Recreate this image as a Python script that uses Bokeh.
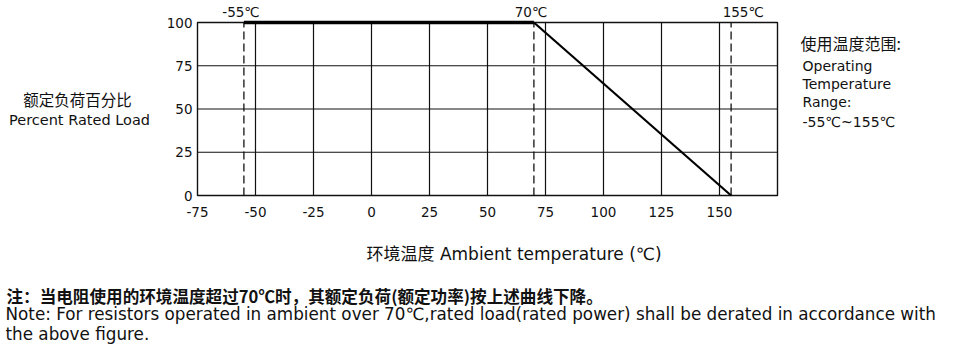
from bokeh.plotting import figure
from bokeh.models import Range1d, FixedTicker, Label, LinearAxis
from bokeh.embed import file_html
from bokeh.resources import INLINE

# ---- data ----
curve_temp = [-55, 70, 155]
curve_load = [100, 100, 0]
marker_temps = [-55, 70, 155]
marker_texts = ["-55℃", "70℃", "155℃"]
x_lim = [-75, 175]
y_lim = [0, 100]
x_ticks = [-75, -50, -25, 0, 25, 50, 75, 100, 125, 150]
x_grid = [-50, -25, 0, 25, 50, 75, 100, 125, 150]
y_ticks = [0, 25, 50, 75, 100]
y_grid = [25, 50, 75]

# ---- layout (pixels) ----
W, H = 959, 357
FL, FR, FT, FB = 197, 777, 22, 195          # chart box on the canvas
sx = (FR - FL) / (x_lim[1] - x_lim[0])
sy = (FB - FT) / (y_lim[1] - y_lim[0])
marker_text_dx = [-3, -3, 12]

p = figure(width=W, height=H, output_backend="svg", toolbar_location=None,
           x_range=Range1d(x_lim[0] - FL / sx, x_lim[1] + (W - FR) / sx),
           y_range=Range1d(y_lim[0] - (H - FB) / sy, y_lim[1] + FT / sy),
           x_axis_location=None, y_axis_location=None,
           min_border=0, min_border_left=0, min_border_right=0,
           min_border_top=0, min_border_bottom=0)
p.outline_line_color = None
p.grid.visible = False
p.background_fill_color = "white"
p.border_fill_color = "white"

INK = "#111111"

# axes placed on the chart box edges
xax = LinearAxis(fixed_location=y_lim[0], ticker=FixedTicker(ticks=x_ticks),
                 major_label_overrides={t: str(t) for t in x_ticks})
yax = LinearAxis(fixed_location=x_lim[0], ticker=FixedTicker(ticks=y_ticks),
                 major_label_overrides={t: str(t) for t in y_ticks})
for ax in (xax, yax):
    ax.axis_line_color = None
    ax.major_tick_line_color = None
    ax.minor_tick_line_color = None
    ax.major_tick_out = 0
    ax.major_tick_in = 0
    ax.minor_tick_out = 0
    ax.minor_tick_in = 0
    ax.major_label_text_font = "DejaVu Sans"
    ax.major_label_text_color = INK
    ax.major_label_text_font_size = "13.5px"
xax.major_label_standoff = 11
yax.major_label_standoff = 5
p.add_layout(xax, "below")
p.add_layout(yax, "left")

# grid lines
p.segment(x0=x_grid, y0=[y_lim[0]] * len(x_grid), x1=x_grid, y1=[y_lim[1]] * len(x_grid),
          line_color=INK, line_width=1.2)
p.segment(x0=[x_lim[0]] * len(y_grid), y0=y_grid, x1=[x_lim[1]] * len(y_grid), y1=y_grid,
          line_color=INK, line_width=1.2)
# chart box
p.quad(left=[x_lim[0]], right=[x_lim[1]], bottom=[y_lim[0]], top=[y_lim[1]],
       fill_color=None, line_color=INK, line_width=1.4)

# dashed markers
p.segment(x0=marker_temps, y0=[y_lim[0]] * 3, x1=marker_temps, y1=[y_lim[1]] * 3,
          line_color=INK, line_width=1.3, line_dash="8 4")

# derating curve
p.line(curve_temp[:2], curve_load[:2], line_color="#000000", line_width=3.6)
p.line(curve_temp[1:], curve_load[1:], line_color="#000000", line_width=2.2)

# marker texts above chart box
for t, s, dx in zip(marker_temps, marker_texts, marker_text_dx):
    p.add_layout(Label(x=t, y=y_lim[1], text=s, text_align="center", text_baseline="bottom",
                       x_offset=dx, y_offset=3, text_font="DejaVu Sans", text_font_size="13.5px",
                       text_color=INK))

FONT_MIX = "'DejaVu Sans', 'Noto Sans CJK SC'"
CJK = "'Noto Sans CJK SC'"

def lab(text, px, py, size, font=FONT_MIX, style="normal", align="left"):
    # px, py: canvas pixels from the top-left corner
    p.add_layout(Label(x=px, y=H - py, x_units="screen", y_units="screen",
                       text=text, text_align=align, text_baseline="middle",
                       text_font=font, text_font_size=size, text_font_style=style,
                       text_color=INK))

lab("额定负荷百分比", 77, 98, "15.5px", font=CJK, align="center")
lab("Percent Rated Load", 79, 119, "14.5px", align="center")

lab("使用温度范围:", 800, 42, "16px", font=CJK)
lab("Operating", 802, 65, "14px")
lab("Temperature", 802, 83, "14px")
lab("Range:", 802, 101, "14px")
lab("-55℃~155℃", 802, 121, "14px")

lab("环境温度  Ambient temperature (℃)", 366, 253, "17px")

lab("注：当电阻使用的环境温度超过70℃时，其额定负荷(额定功率)按上述曲线下降。", 6, 295, "16.6px",
    font=CJK, style="bold")
lab("Note: For resistors operated in ambient over 70℃,rated load(rated power) shall be derated in accordance with",
    5, 313, "16.8px")
lab("the above figure.", 5, 333, "16.8px")

open("out.html", "w").write(file_html(p, INLINE))
